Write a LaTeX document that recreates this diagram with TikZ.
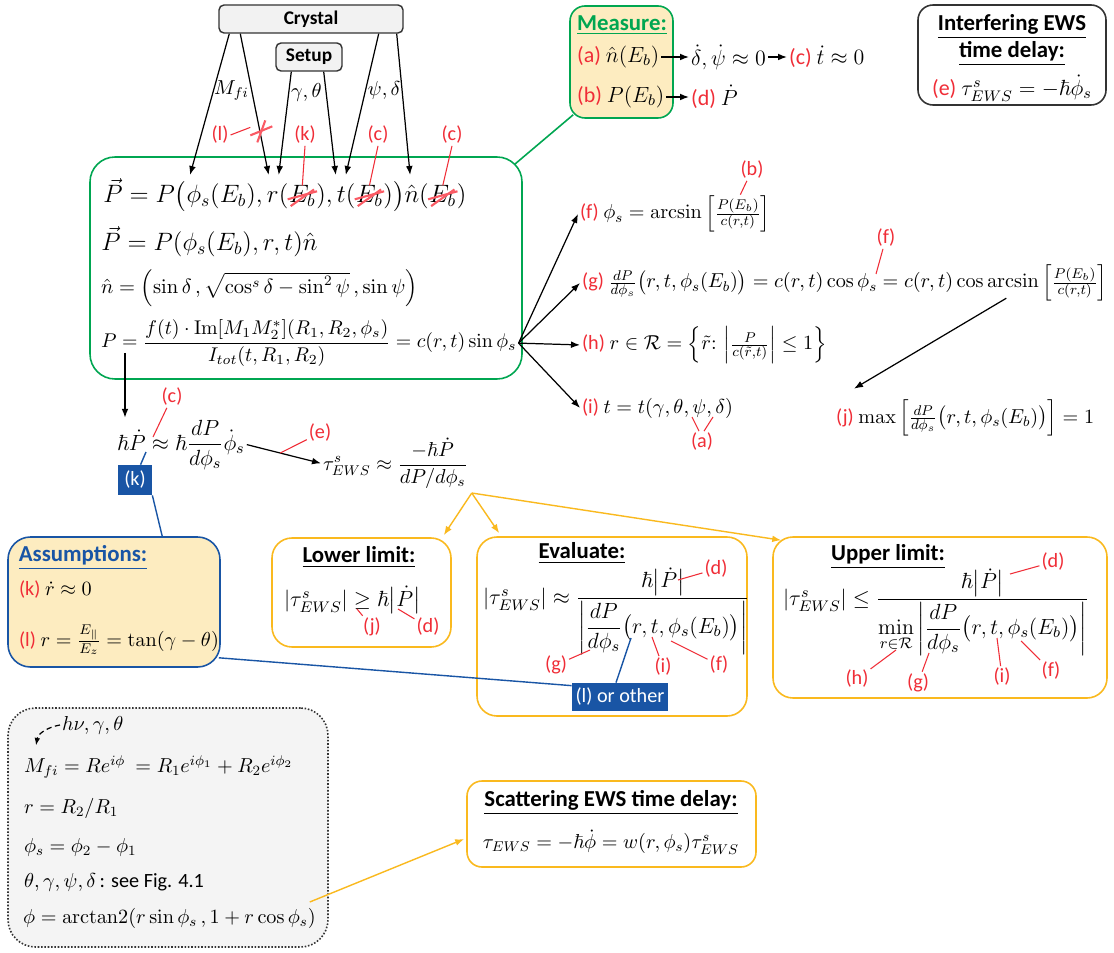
\RequirePackage{fix-cm}
\documentclass[tikz,border=0pt]{standalone}
\usepackage{amsmath,amssymb}
\usepackage[no-math]{fontspec}
\setmainfont{Carlito}
\usepackage{tikz}
\usetikzlibrary{arrows.meta,calc,positioning}
\definecolor{cgreen}{RGB}{0,166,81}
\definecolor{cgold}{RGB}{250,185,30}
\definecolor{cpaper}{RGB}{253,236,192}
\definecolor{cblue}{RGB}{25,85,165}
\definecolor{cred}{RGB}{240,45,55}
\definecolor{cstrike}{RGB}{250,90,100}
\newdimen\unitpx \unitpx=0.02cm
\newcommand{\tg}[1]{\textcolor{cred}{(#1)}}
\tikzset{
  panel/.style={rectangle,rounded corners=0.4cm,line width=0.9pt,inner sep=0pt},
  srcbox/.style={rectangle,rounded corners=0.1cm,draw=black!80,fill=gray!10,
    line width=0.8pt,inner sep=0pt,font=\bfseries\fontsize{11}{13}\selectfont},
  tagbox/.style={rectangle,fill=cblue,text=white,inner sep=0pt,
    font=\fontsize{11.5}{13}\selectfont},
  title/.style={font=\bfseries\fontsize{13}{15}\selectfont,inner sep=1pt},
  eqbig/.style={font=\fontsize{14.3}{17}\selectfont,inner sep=0pt},
  eq/.style={font=\fontsize{12.5}{15}\selectfont,inner sep=1pt},
  eqsm/.style={font=\fontsize{11.5}{14}\selectfont,inner sep=1pt},
  lab/.style={text=cred,font=\fontsize{11.5}{13}\selectfont,inner sep=1pt},
  arr/.style={-{Latex[length=1.8mm]},line width=0.7pt},
  goldarr/.style={-{Latex[length=1.8mm]},line width=0.8pt,cgold},
  redline/.style={cred,line width=0.6pt},
  strike/.style={cstrike,line width=1.2pt},
  blueline/.style={cblue,line width=0.8pt}
}

\begin{document}
\begin{tikzpicture}[x=0.02cm,y=-0.02cm]
\useasboundingbox (0,0) rectangle (1114,952);
\fill[white] (0,0) rectangle (1114,952);

% ---------------- inputs ----------------
\node[srcbox,minimum width=184\unitpx,minimum height=28\unitpx] (crystal) at (311,19) {Crystal};
\node[srcbox,minimum width=66\unitpx,minimum height=28\unitpx] (setup) at (309,57) {Setup};

% ---------------- model ----------------
\node[panel,draw=cgreen,rounded corners=0.5cm,minimum width=432\unitpx,minimum height=222\unitpx] (model) at (306,268) {};
\node[eqbig,anchor=base west] (eqa) at (103,203) {$\vec P = P\bigl(\phi_s(E_b), r($};
\node[eqbig,anchor=base west] (eb1) at (eqa.base east) {$E_b$};
\node[eqbig,anchor=base west] (eqb) at (eb1.base east) {$), t($};
\node[eqbig,anchor=base west] (eb2) at (eqb.base east) {$E_b$};
\node[eqbig,anchor=base west] (eqc) at (eb2.base east) {$)\bigr)\hat n($};
\node[eqbig,anchor=base west] (eb3) at (eqc.base east) {$E_b$};
\node[eqbig,anchor=base west] (eqd) at (eb3.base east) {$)$};
\node[eqbig,anchor=west] (eqn2) at (101,242) {$\vec P = P(\phi_s(E_b), r, t)\hat n$};
\node[eqsm,font=\fontsize{11.7}{14}\selectfont,anchor=west] (eqn3) at (99,288) {$\hat n = \Bigl(\sin\delta\,, \sqrt{\cos^s\delta - \sin^2\psi}\,, \sin\psi\Bigr)$};
\node[eqsm,font=\fontsize{11.3}{14}\selectfont,anchor=base west] (eqn4) at (99,348) {$P = \dfrac{f(t)\cdot\mathrm{Im}[M_1M_2^*](R_1,R_2,\phi_s)}{I_{tot}(t,R_1,R_2)} = c(r,t)\sin\phi_s$};

% inputs into the model
\draw[arr] ($(crystal.south west)+(11,0)$) -- node[right=-1pt,pos=0.4,eqsm] {$M_{fi}$} ($(eqa.base west)+(87,-28)$);
\draw[arr] ($(crystal.south west)+(22,0)$) -- coordinate[pos=0.67] (cut) ($(eb1.base west)+(-20,-28)$);
\draw[arr] ($(setup.south west)+(16,0)$) -- node[right,pos=0.2,eqsm] {$\gamma,\theta$} ($(eb1.base west)+(-10,-28)$);
\draw[arr] ($(setup.south east)+(-19,0)$) -- ($(eb2.base west)+(-20,-28)$);
\draw[arr] ($(crystal.south east)+(-25,0)$) -- node[right,pos=0.4,eqsm] {$\psi,\delta$} ($(eb2.base west)+(-10,-28)$);
\draw[arr] ($(crystal.south east)+(-7,0)$) -- ($(eb3.base west)+(-19,-28)$);

% dropped dependencies
\node[lab] (ll) at (220,135) {(l)};
\node[lab] (lk) at (305,135) {(k)};
\node[lab] (lc1) at (378,135) {(c)};
\node[lab] (lc2) at (452,135) {(c)};
\draw[redline] (ll.east) -- ($(cut)+(-9,-1)$);
\draw[strike] ($(cut)+(-9,7)$) -- ($(cut)+(13,-2)$);
\draw[strike] ($(cut)+(-2,14)$) -- ($(cut)+(6,-8)$);
\draw[redline] (lk.south) -- (eb1.north);
\draw[redline] (lc1.south) -- (eb2.north);
\draw[redline] (lc2.south) -- (eb3.north);
\foreach \e in {eb1,eb2,eb3} {
  \draw[strike] ($(\e.south west)+(2,-1)$) -- ($(\e.north east)+(-2,4)$);
  \draw[strike] ($(\e.west)+(-1,3)$) -- ($(\e.east)+(1,-5)$);
}

% ---------------- measured quantities ----------------
\node[panel,draw=cgreen,fill=cpaper,rounded corners=0.3cm,minimum width=103\unitpx,minimum height=112\unitpx] (measure) at (621.5,62) {};
\node[title,text=cgreen] (mtitle) at (622,25) {\underline{Measure:}};
\node[eq,anchor=west] (ma) at (575,57) {\tg{a} $\hat n(E_b)$};
\node[eq,anchor=west] (mdot) at (689,57) {$\dot\delta,\dot\psi\approx 0$};
\node[eq,anchor=west] (mc) at (787,57) {\tg{c} $\dot t\approx 0$};
\node[eq,anchor=west] (mb) at (575,97) {\tg{b} $P(E_b)$};
\node[eq,anchor=west] (md) at (689,97) {\tg{d} $\dot P$};
\draw[arr] (ma) -- (mdot);
\draw[arr] (mdot) -- (mc);
\draw[arr] (mb) -- (md);
\draw[cgreen,line width=0.9pt] ($(measure.south west)+(4,-4)$) -- ($(model.north east)+(-8,8)$);

% ---------------- interfering delay ----------------
\node[panel,draw=black!80,rounded corners=0.3cm,minimum width=188\unitpx,minimum height=100\unitpx] (iews) at (1012,55) {};
\node[title] (it1) at (1012,27) {\underline{Interfering EWS}};
\node[title] (it2) at (1012,54) {\underline{time delay:}};
\node[eq] (it3) at (1012,88) {\tg{e} $\tau^s_{EWS} = -\hbar\dot\phi_s$};

% ---------------- consequences ----------------
\node[eqsm,anchor=base west] (fnode) at (578,219) {\tg{f} $\phi_s = \arcsin\left[\frac{P(E_b)}{c(r,t)}\right]$};
\node[eqsm,anchor=base west] (gnode) at (580,288) {\tg{g} $\frac{dP}{d\phi_s}\bigl(r,t,\phi_s(E_b)\bigr) = c(r,t)\cos\phi_s = c(r,t)\cos\arcsin\left[\frac{P(E_b)}{c(r,t)}\right]$};
\node[eqsm,anchor=base west] (hnode) at (580,350) {\tg{h} $r\in\mathcal R = \left\{\tilde r{:}\,\left|\frac{P}{c(\tilde r,t)}\right| \leq 1\right\}$};
\node[eqsm,anchor=base west] (inode) at (580,413) {\tg{i} $t = t(\gamma,\theta,\psi,\delta)$};
\node[eqsm,anchor=base west] (jnode) at (834,423) {\tg{j} $\max\left[\frac{dP}{d\phi_s}\bigl(r,t,\phi_s(E_b)\bigr)\right] = 1$};
\foreach \t in {fnode,gnode,hnode,inode}
  \draw[arr] (eqn4.east) -- (\t.west);
\draw[arr] ($(gnode.south east)+(-103,-5)$) -- ($(jnode.north west)+(20,-9)$);
\node[lab] (lb) at (752,170) {(b)};
\draw[redline] (lb) -- ($(fnode.north east)+(-32,1)$);
\node[lab] (lf) at (886,238) {(f)};
\draw[redline] (lf) -- ($(gnode.base west)+(296,-14)$);
\node[lab] (la) at (702,442) {(a)};
\draw[redline] ($(la.north)+(-3,0)$) -- ($(inode.base west)+(112,4)$);
\draw[redline] ($(la.north)+(2,0)$) -- ($(inode.base west)+(133,4)$);

% ---------------- rate equation ----------------
\node[eq,anchor=base west] (rate) at (115,450) {$\hbar\dot P \approx \hbar\dfrac{dP}{d\phi_s}\dot\phi_s$};
\coordinate (pin) at ($(eqn4.base west)+(26,5)$);
\draw[arr] (pin) -- (pin |- rate.north);
\node[eqsm,anchor=base west] (tau) at (321,470) {$\tau^s_{EWS} \approx \dfrac{-\hbar\dot P}{dP/d\phi_s}$};
\draw[arr] (rate.east) -- (tau.west);
\node[lab] (le) at (320,433) {(e)};
\draw[redline] (le) -- ($(rate.east)!0.45!(tau.west)$);
\node[lab] (lc3) at (172,397) {(c)};
\draw[redline] (lc3) -- ($(rate.base west)+(38,-13)$);
\node[tagbox,minimum width=34\unitpx,minimum height=30\unitpx] (kbox) at (135,480) {(k)};

% ---------------- assumptions ----------------
\node[panel,draw=cblue,fill=cpaper,rounded corners=0.45cm,minimum width=212\unitpx,minimum height=130\unitpx] (assum) at (114,602) {};
\node[title,text=cblue] (ast) at (83,558) {\underline{Assumptions:}};
\node[eqsm,anchor=west] (ak) at (17,590) {\tg{k} $\dot r\approx 0$};
\node[eqsm,anchor=west] (al) at (17,640) {\tg{l} $r = \frac{E_\parallel}{E_z} = \tan(\gamma-\theta)$};
\draw[blueline] ($(rate.base west)+(31,2)$) -- (kbox.70);
\draw[blueline] (kbox.south east) -- ($(assum.north west)+(155,0)$);

% ---------------- limits ----------------
\coordinate (fork) at ($(tau.south east)+(2,2)$);
\node[panel,draw=cgold,minimum width=179\unitpx,minimum height=109\unitpx] (lower) at (361.5,592.5) {};
\node[title] (lowt) at (359,557) {\underline{Lower limit:}};
\node[eq,anchor=west] (lowf) at (282,600) {$|\tau^s_{EWS}| \geq \hbar\bigl|\dot P\bigr|$};
\node[lab] (lj) at (372,627) {(j)};
\node[lab] (ld1) at (428,627) {(d)};
\draw[redline] (lj) -- ($(lowf.west)+(75,9)$);
\draw[redline] (ld1) -- ($(lowf.west)+(116,9)$);

\node[panel,draw=cgold,minimum width=270\unitpx,minimum height=179\unitpx] (evalbox) at (612,626.5) {};
\node[title] (evt) at (582,553) {\underline{Evaluate:}};
\node[eq,anchor=base west] (evf) at (481,604) {$|\tau^s_{EWS}| \approx \dfrac{\hbar\bigl|\dot P\bigr|}{\left|\dfrac{dP}{d\phi_s}\bigl(r,t,\phi_s(E_b)\bigr)\right|}$};
\node[lab] (ld2) at (716,569) {(d)};
\node[lab] (lg2) at (556,665) {(g)};
\node[lab] (li2) at (663,667) {(i)};
\node[lab] (lf2) at (719,665) {(f)};
\draw[redline] (ld2) -- ($(evf.base west)+(197,-24)$);
\draw[redline] (lg2) -- ($(evf.base west)+(109,46)$);
\draw[redline] (li2) -- ($(evf.base west)+(171,33)$);
\draw[redline] (lf2) -- ($(evf.base west)+(190,37)$);
\node[tagbox,minimum width=96\unitpx,minimum height=28\unitpx] (lor) at (620,697) {(l) or other};
\draw[blueline] ($(lor.north)+(-4,0)$) -- ($(evf.base west)+(150,34)$);
\draw[blueline] ($(assum.south east)+(-2,-10)$) -- ($(lor.north west)+(0,3)$);

\node[panel,draw=cgold,minimum width=334\unitpx,minimum height=161\unitpx] (upper) at (940,617.5) {};
\node[title] (upt) at (888,557) {\underline{Upper limit:}};
\node[eq,anchor=base west] (upf) at (781,605) {$|\tau^s_{EWS}| \leq \dfrac{\hbar\bigl|\dot P\bigr|}{\min\limits_{r\in\mathcal R}\left|\dfrac{dP}{d\phi_s}\bigl(r,t,\phi_s(E_b)\bigr)\right|}$};
\node[lab] (ld3) at (1053,562) {(d)};
\node[lab] (lh3) at (857,679) {(h)};
\node[lab] (lg3) at (918,683) {(g)};
\node[lab] (li3) at (1002,677) {(i)};
\node[lab] (lf3) at (1051,671) {(f)};
\draw[redline] (ld3) -- ($(upf.base west)+(229,-31)$);
\draw[redline] (lh3) -- ($(upf.base west)+(115,45)$);
\draw[redline] (lg3) -- ($(upf.base west)+(148,48)$);
\draw[redline] (li3) -- ($(upf.base west)+(216,33)$);
\draw[redline] (lf3) -- ($(upf.base west)+(240,36)$);

\draw[goldarr] (fork) -- ($(lower.north east)+(-8,-2)$);
\draw[goldarr] (fork) -- ($(evalbox.north west)+(23,-3)$);
\draw[goldarr] (fork) -- ($(upper.north west)+(9,4)$);

% ---------------- definitions ----------------
\node[panel,draw=black!80,densely dotted,fill=gray!9,rounded corners=0.55cm,minimum width=320\unitpx,minimum height=239\unitpx] (defs) at (168,827.5) {};
\node[eqsm,anchor=west] (hnu) at (60,725) {$h\nu,\gamma,\theta$};
\node[eqsm,anchor=west] (mfi) at (22,767) {$M_{fi} = Re^{i\phi}\ = R_1e^{i\phi_1} + R_2e^{i\phi_2}$};
\node[eqsm,anchor=west] (rdef) at (22,808) {$r = R_2/R_1$};
\node[eqsm,anchor=west] (phis) at (22,847) {$\phi_s = \phi_2 - \phi_1$};
\node[eqsm,anchor=west] (angles) at (22,882) {$\theta,\gamma,\psi,\delta$\,: see Fig. 4.1};
\node[eqsm,anchor=west] (phiarc) at (21,918) {$\phi = \operatorname{arctan2}(r\sin\phi_s\,, 1 + r\cos\phi_s)$};
\draw[densely dashed,-{Latex[length=1.5mm]},line width=0.7pt] (hnu.west) to[out=190,in=80] ($(mfi.north west)+(14,-8)$);

% ---------------- scattering delay ----------------
\node[panel,draw=cgold,rounded corners=0.3cm,minimum width=289\unitpx,minimum height=86\unitpx] (scat) at (611.5,824) {};
\node[title] (sct) at (611,803) {\underline{Scattering EWS time delay:}};
\node[eqsm] (scf) at (611,842) {$\tau_{EWS} = -\hbar\dot\phi = w(r,\phi_s)\tau^s_{EWS}$};
\draw[goldarr] ($(phiarc.east)+(-8,-16)$) -- ($(scat.west)+(-2,15)$);
\end{tikzpicture}
\end{document}
